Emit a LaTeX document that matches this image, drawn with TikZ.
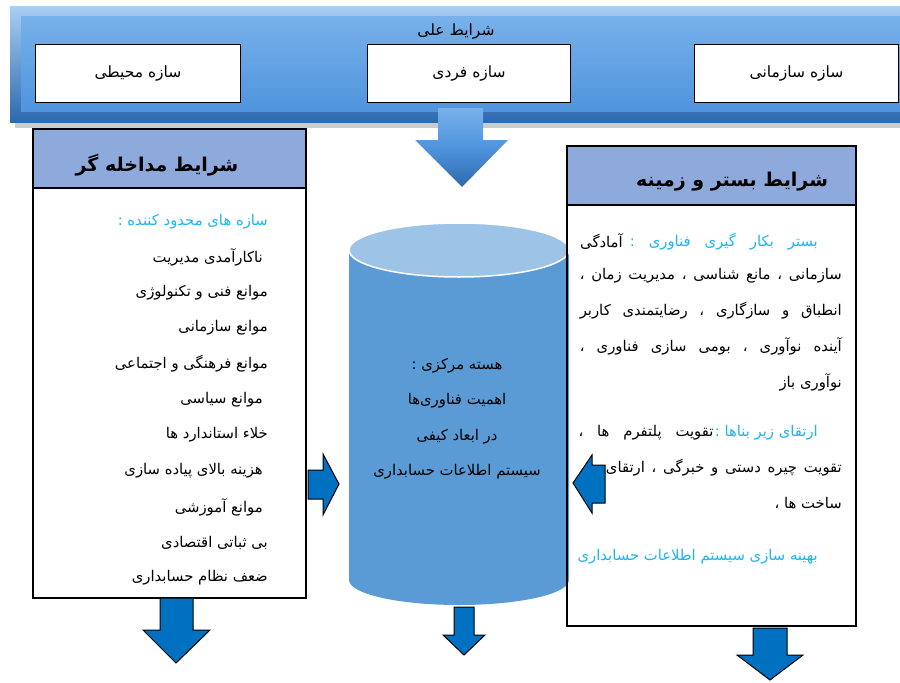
\documentclass[tikz,border=0pt]{standalone}
\usepackage{fontspec}
\TeXXeTstate=1
\newfontfamily\farsi[Script=Arabic]{DejaVu Sans}
\newcommand{\myrtl}[1]{\beginR #1\endR}
\definecolor{arrowblue}{HTML}{0070C0}
\definecolor{cyantext}{HTML}{1FB4F0}
\definecolor{headfill}{HTML}{8EA9DB}
\definecolor{cylbody}{HTML}{5B9BD5}
\definecolor{cyltop}{HTML}{9DC3E6}
\definecolor{bannerlight}{HTML}{A8CFF4}
\definecolor{bannerdark}{HTML}{2D69AE}
\definecolor{bannertop}{HTML}{78B1EA}
\definecolor{bannerbot}{HTML}{4F94DD}
\begin{document}
\begin{tikzpicture}[x=1pt,y=-1pt,
  fa/.style={font=\farsi\fontsize{14.8}{17}\selectfont, inner sep=0pt},
  faban/.style={font=\farsi\fontsize{15.5}{18}\selectfont, inner sep=0pt},
  fahead/.style={font=\farsi\bfseries\fontsize{19}{22}\selectfont, inner sep=0pt},
  frame/.style={draw=black, line width=1.6pt, fill=none, inner sep=0pt},
  whitebox/.style={draw=black, line width=1pt, fill=white, inner sep=0pt, anchor=north west},
  blockarrow/.style={fill=arrowblue, draw=black, line width=1pt, line join=miter},
  cyan/.style={text=cyantext}]
\useasboundingbox (0,0) rectangle (900,683);
% ---------- top banner ----------
\fill[gray!40] (15,12) rectangle (900,128);
\shade[top color=bannerlight, bottom color=bannerdark] (10,6) rectangle (900,122);
\shade[top color=bannertop, bottom color=bannerbot] (21,16) rectangle (900,111);
\node[faban] (causal) at (456,32) {\myrtl{شرایط علی}};
\node[whitebox, minimum width=205pt, minimum height=58pt] (env) at (35,44) {};
\node[whitebox, minimum width=203pt, minimum height=58pt] (ind) at (367,44) {};
\node[whitebox, minimum width=204pt, minimum height=58pt] (org) at (694,44) {};
\node[faban] (envt) at (env.center) {\myrtl{سازه محیطی}};
\node[faban] (indt) at (ind.center) {\myrtl{سازه فردی}};
\node[faban] (orgt) at (org.center) {\myrtl{سازه سازمانی}};
% big 3D arrow from banner
\shade[top color=bannertop, bottom color=bannerdark, middle color=bannerbot]
  (438,108) -- (483,108) -- (483,140) -- (508,140) -- (462,187) -- (415,140) -- (438,140) -- cycle;
% ---------- left box ----------
\fill[headfill] (32,128) rectangle (305,188);
\draw[line width=1.6pt] (32,188) -- (305,188);
\node[frame, minimum width=273pt, minimum height=469pt, anchor=north west] (leftbox) at (32,128) {};
\node[fahead] (lefthead) at (157,165) {\myrtl{شرایط مداخله گر}};
\node[fa, cyan, anchor=east] (l0) at (268,222) {\myrtl{سازه های محدود کننده :}};
\node[fa, anchor=east] (l1) at (263,257) {\myrtl{ناکارآمدی مدیریت}};
\node[fa, anchor=east] (l2) at (268,293) {\myrtl{موانع فنی و تکنولوژی}};
\node[fa, anchor=east] (l3) at (268,328) {\myrtl{موانع سازمانی}};
\node[fa, anchor=east] (l4) at (268,364) {\myrtl{موانع فرهنگی و اجتماعی}};
\node[fa, anchor=east] (l5) at (263,400) {\myrtl{موانع سیاسی}};
\node[fa, anchor=east] (l6) at (268,435) {\myrtl{خلاء استاندارد ها}};
\node[fa, anchor=east] (l7) at (263,471) {\myrtl{هزینه بالای پیاده سازی}};
\node[fa, anchor=east] (l8) at (263,507) {\myrtl{موانع آموزشی}};
\node[fa, anchor=east] (l9) at (268,543) {\myrtl{بی ثباتی اقتصادی}};
\node[fa, anchor=east] (l10) at (268,578) {\myrtl{ضعف نظام حسابداری}};
% ---------- cylinder ----------
\fill[cylbody] (349,250) -- (349,580) arc[start angle=180, end angle=0, x radius=110, y radius=25] -- (569,250) -- cycle;
\draw[white, line width=1.5pt, fill=cyltop] (459,250) ellipse[x radius=110, y radius=27];
\node[fa] (c1) at (457,366) {\myrtl{هسته مرکزی :}};
\node[fa] (c2) at (457,401) {\myrtl{اهمیت فناوری‌ها}};
\node[fa] (c3) at (457,437) {\myrtl{در ابعاد کیفی}};
\node[fa] (c4) at (457,472) {\myrtl{سیستم اطلاعات حسابداری}};
% ---------- right box ----------
\fill[headfill] (566,145) rectangle (855,205);
\draw[line width=1.6pt] (566,205) -- (855,205);
\node[frame, minimum width=289pt, minimum height=480pt, anchor=north west] (rightbox) at (566,145) {};
\node[fahead] (righthead) at (732,182) {\myrtl{شرایط بستر و زمینه}};
\node[fa, cyan, anchor=east] (r1a) at (818,242) {\hbox to 188pt{\myrtl{بستر بکار گیری فناوری :}}};
\node[fa, anchor=west] (r1b) at (580,242) {\myrtl{آمادگی}};
\node[fa, anchor=east] (r2) at (842,276) {\hbox to 262pt{\myrtl{سازمانی ، مانع شناسی ، مدیریت زمان ،}}};
\node[fa, anchor=east] (r3) at (842,311) {\hbox to 262pt{\myrtl{انطباق و سازگاری ، رضایتمندی کاربر}}};
\node[fa, anchor=east] (r4) at (842,346) {\hbox to 262pt{\myrtl{آینده نوآوری ، بومی سازی فناوری ،}}};
\node[fa, anchor=east] (r5) at (842,382) {\myrtl{نوآوری باز}};
\node[fa, cyan, anchor=east] (r6a) at (818,433) {\myrtl{ارتقای زیر بناها :}};
\node[fa, anchor=east] (r6b) at ([xshift=-1pt]r6a.west) {\hbox to 135pt{\myrtl{تقویت پلتفرم ها ،}}};
\node[fa, anchor=east] (r7) at (842,468) {\hbox to 262pt{\myrtl{تقویت چیره دستی و خبرگی ، ارتقای زیر}}};
\node[fa, anchor=east] (r8) at (842,503) {\myrtl{ساخت ها ،}};
\node[fa, cyan, anchor=east] (r9) at (818,557) {\myrtl{بهینه سازی سیستم اطلاعات حسابداری}};
% ---------- block arrows ----------
\draw[blockarrow] (308,470) -- (323,470) -- (323,454) -- (339,484) -- (323,515) -- (323,499) -- (308,499) -- cycle;
\draw[blockarrow] (605,465) -- (592,465) -- (592,455) -- (573,483) -- (592,513) -- (592,503) -- (605,503) -- cycle;
\draw[blockarrow] (160,598) -- (193,598) -- (193,630) -- (210,630) -- (176,663) -- (143,630) -- (160,630) -- cycle;
\draw[blockarrow] (454,607) -- (474,607) -- (474,635) -- (485,635) -- (464,655) -- (443,635) -- (454,635) -- cycle;
\draw[blockarrow] (753,628) -- (787,628) -- (787,655) -- (803,655) -- (770,680) -- (737,655) -- (753,655) -- cycle;
\end{tikzpicture}
\end{document}
